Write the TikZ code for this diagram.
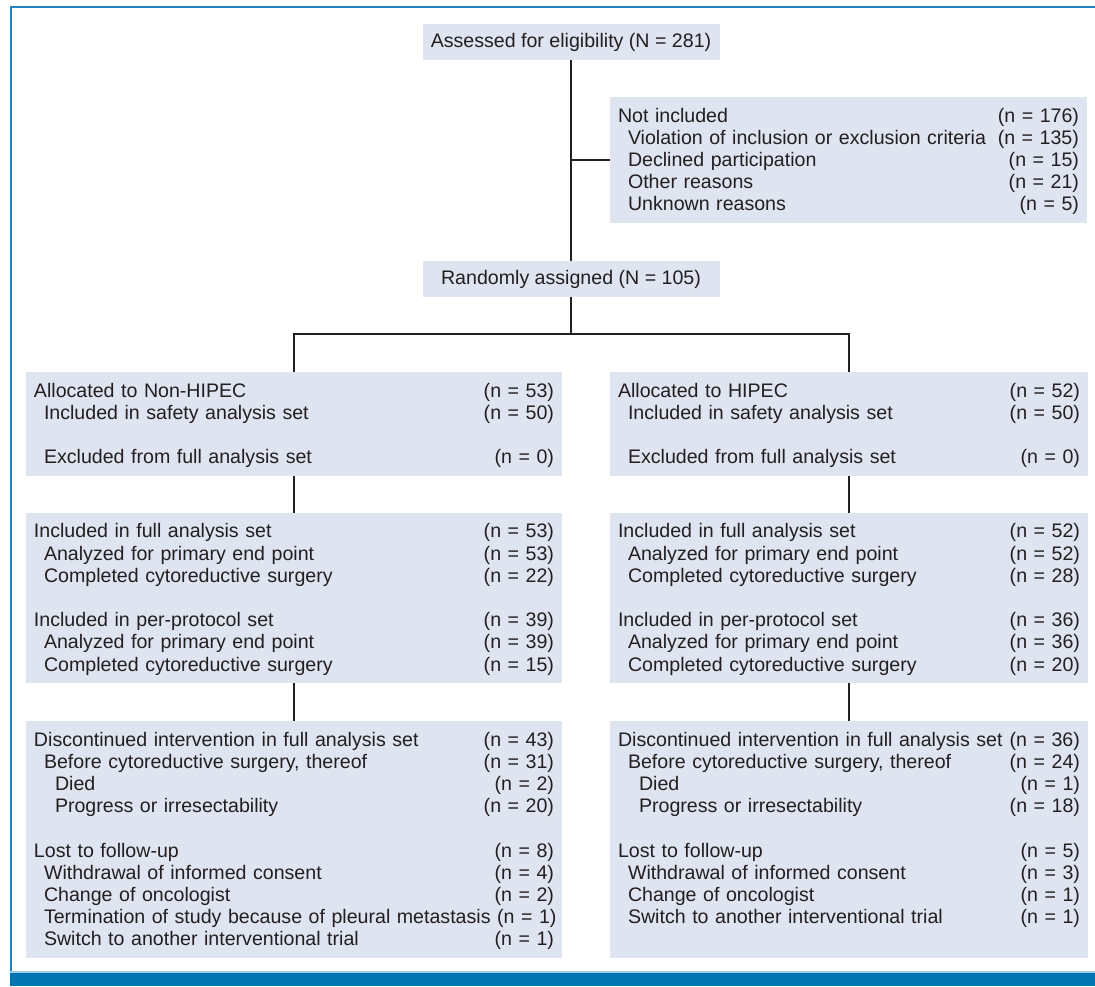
\documentclass[tikz,border=0pt]{standalone}
\usepackage{fontspec}
\setmainfont{Liberation Sans}
\definecolor{boxfill}{RGB}{222,228,240}
\definecolor{ink}{RGB}{35,31,32}
\definecolor{frameblue}{RGB}{35,132,194}
\definecolor{barblue}{RGB}{0,117,177}
\definecolor{barlight}{RGB}{160,205,230}
\newcommand\rowstrut{\rule[-4.6pt]{0pt}{22.2pt}}
\newcommand\rw[3]{\makebox[\hsize][l]{\rowstrut\hspace*{#1}#2\hfill\ #3}}
\newcommand\blankrow{\rowstrut}
\newcommand\ia{10pt}
\newcommand\ib{21pt}
\tikzset{
  base/.style={fill=boxfill, text=ink, inner ysep=0pt, font=\fontsize{19.6}{22.2}\selectfont},
  titlebox/.style={base, minimum width=297pt, minimum height=36pt, inner xsep=0pt},
  listbox/.style={base, inner xsep=8pt, align=left},
  colL/.style={listbox, text width=520pt},
  colR/.style={listbox, text width=462pt},
  link/.style={draw=ink, line width=1.5pt, line join=miter},
}
\begin{document}
\begin{tikzpicture}[x=1pt,y=-1pt]
\useasboundingbox (0,0) rectangle (1095,986);
% frame
\draw[frameblue, line width=2pt] (11,986) -- (11,7) -- (1095,7);
\fill[barlight] (10,970.5) rectangle (1095,973);
\fill[barblue] (10,973) rectangle (1095,986);

\node[titlebox] (assess) at (571,42) {Assessed for eligibility (N = 281)};
\node[listbox, text width=461pt, minimum height=126pt] (notinc) at (848.5,160) {%
\rw{0pt}{Not included}{(n = 176)}\\
\rw{\ia}{Violation of inclusion or exclusion criteria}{(n = 135)}\\
\rw{\ia}{Declined participation}{(n = 15)}\\
\rw{\ia}{Other reasons}{(n = 21)}\\
\rw{\ia}{Unknown reasons}{(n = 5)}};
\node[titlebox] (rand) at (571,279) {Randomly assigned (N = 105)};

\node[colL, minimum height=104pt] (L1) at (294,424) {%
\rw{0pt}{Allocated to Non-HIPEC}{(n = 53)}\\
\rw{\ia}{Included in safety analysis set}{(n = 50)}\\
\blankrow\\
\rw{\ia}{Excluded from full analysis set}{(n = 0)}};
\node[colR, minimum height=104pt] (R1) at (849,424) {%
\rw{0pt}{Allocated to HIPEC}{(n = 52)}\\
\rw{\ia}{Included in safety analysis set}{(n = 50)}\\
\blankrow\\
\rw{\ia}{Excluded from full analysis set}{(n = 0)}};

\node[colL, minimum height=170pt] (L2) at (294,598) {%
\rw{0pt}{Included in full analysis set}{(n = 53)}\\
\rw{\ia}{Analyzed for primary end point}{(n = 53)}\\
\rw{\ia}{Completed cytoreductive surgery}{(n = 22)}\\
\blankrow\\
\rw{0pt}{Included in per-protocol set}{(n = 39)}\\
\rw{\ia}{Analyzed for primary end point}{(n = 39)}\\
\rw{\ia}{Completed cytoreductive surgery}{(n = 15)}};
\node[colR, minimum height=170pt] (R2) at (849,598) {%
\rw{0pt}{Included in full analysis set}{(n = 52)}\\
\rw{\ia}{Analyzed for primary end point}{(n = 52)}\\
\rw{\ia}{Completed cytoreductive surgery}{(n = 28)}\\
\blankrow\\
\rw{0pt}{Included in per-protocol set}{(n = 36)}\\
\rw{\ia}{Analyzed for primary end point}{(n = 36)}\\
\rw{\ia}{Completed cytoreductive surgery}{(n = 20)}};

\node[colL, minimum height=237pt] (L3) at (294,839.5) {%
\rw{0pt}{Discontinued intervention in full analysis set}{(n = 43)}\\
\rw{\ia}{Before cytoreductive surgery, thereof}{(n = 31)}\\
\rw{\ib}{Died}{(n = 2)}\\
\rw{\ib}{Progress or irresectability}{(n = 20)}\\
\blankrow\\
\rw{0pt}{Lost to follow-up}{(n = 8)}\\
\rw{\ia}{Withdrawal of informed consent}{(n = 4)}\\
\rw{\ia}{Change of oncologist}{(n = 2)}\\
\rw{\ia}{Termination of study because of pleural metastasis}{(n = 1)}\\
\rw{\ia}{Switch to another interventional trial}{(n = 1)}};
\node[colR, minimum height=237pt] (R3) at (849,839.5) {%
\rw{0pt}{Discontinued intervention in full analysis set}{(n = 36)}\\
\rw{\ia}{Before cytoreductive surgery, thereof}{(n = 24)}\\
\rw{\ib}{Died}{(n = 1)}\\
\rw{\ib}{Progress or irresectability}{(n = 18)}\\
\blankrow\\
\rw{0pt}{Lost to follow-up}{(n = 5)}\\
\rw{\ia}{Withdrawal of informed consent}{(n = 3)}\\
\rw{\ia}{Change of oncologist}{(n = 1)}\\
\rw{\ia}{Switch to another interventional trial}{(n = 1)}\\
\blankrow};

% connectors
\coordinate (split) at (571,334);
\draw[link] (assess.south) -- (rand.north);
\draw[link] (assess.south |- notinc.west) -- (notinc.west);
\draw[link] (rand.south) -- (split);
\draw[link] (L1.north) |- (split) -| (R1.north);
\draw[link] (L1.south) -- (L2.north);
\draw[link] (L2.south) -- (L3.north);
\draw[link] (R1.south) -- (R2.north);
\draw[link] (R2.south) -- (R3.north);
\end{tikzpicture}
\end{document}
